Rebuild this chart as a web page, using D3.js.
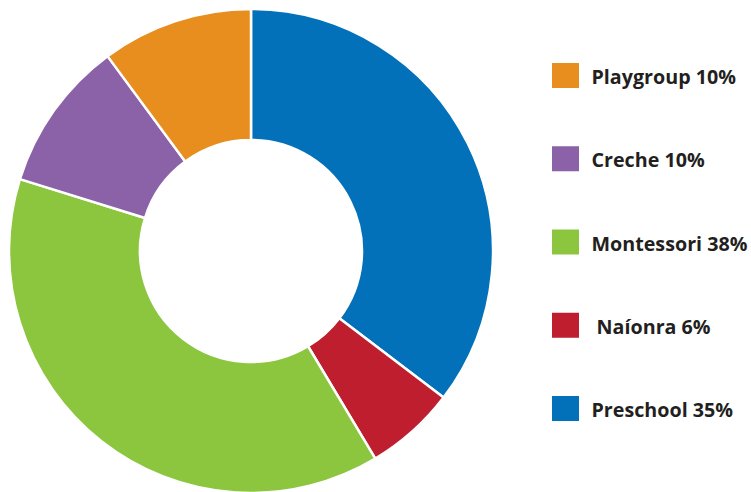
<!DOCTYPE html>
<html>
<head>
<meta charset="utf-8">
<script src="https://cdn.jsdelivr.net/npm/d3@7"></script>
<style>
  html, body { margin: 0; padding: 0; background: #fff; }
  svg { display: block; }
</style>
</head>
<body>
<svg id="chart" width="751" height="492"></svg>
<script>
// Data (slice order clockwise from 12 o'clock)
const categories = ["Preschool", "Naíonra", "Montessori", "Creche", "Playgroup"];
const values = [35, 6, 38, 10, 10];
const colors = ["#0271B9", "#BE1E2D", "#8CC63F", "#8B62A8", "#E78E1E"];
// Legend order (top to bottom)
const legendOrder = ["Playgroup", "Creche", "Montessori", "Naíonra", "Preschool"];
const legendLabels = ["Playgroup 10%", "Creche 10%", "Montessori 38%", " Naíonra 6%", "Preschool 35%"];

const svg = d3.select("#chart");
const cx = 251, cy = 251, outerR = 242, innerR = 111;

const color = d3.scaleOrdinal().domain(categories).range(colors);

const pie = d3.pie().sort(null).value(d => d.value);
const arc = d3.arc().innerRadius(innerR).outerRadius(outerR);

const data = categories.map((c, i) => ({ name: c, value: values[i] }));

svg.append("g")
  .attr("transform", `translate(${cx},${cy})`)
  .selectAll("path")
  .data(pie(data))
  .join("path")
  .attr("d", arc)
  .attr("fill", d => color(d.data.name))
  .attr("stroke", "#fff")
  .attr("stroke-width", 2.5)
  .attr("stroke-linejoin", "round");

const ly = d3.scalePoint().domain(legendOrder).range([75.5, 408.5]);

const legend = svg.append("g")
  .selectAll("g")
  .data(legendOrder)
  .join("g")
  .attr("transform", d => `translate(552,${ly(d)})`);

legend.append("rect")
  .attr("x", 0).attr("y", -12.5)
  .attr("width", 27).attr("height", 25)
  .attr("fill", d => color(d));

legend.append("text")
  .attr("x", 39.5)
  .attr("y", 8.5)
  .attr("xml:space", "preserve")
  .style("white-space", "pre")
  .attr("font-family", "'Open Sans', 'DejaVu Sans', sans-serif")
  .attr("font-weight", "bold")
  .attr("font-size", 19.7)
  .attr("fill", "#231F20")
  .text((d, i) => legendLabels[i]);
</script>
</body>
</html>
